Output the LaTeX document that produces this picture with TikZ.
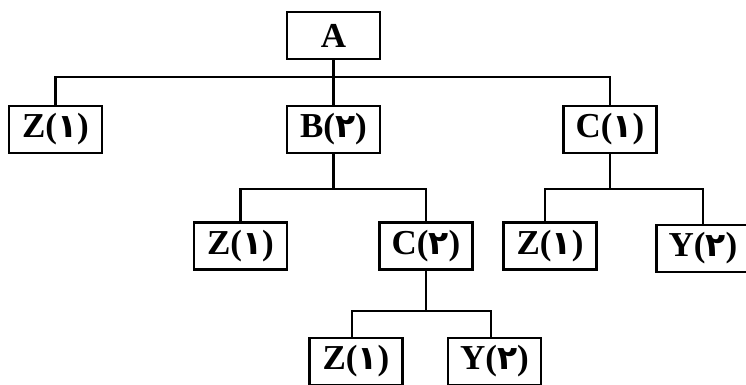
\documentclass[tikz,border=0pt]{standalone}
\usepackage{fontspec}
\setmainfont{Liberation Serif}
\newfontfamily\arabicfont[Script=Arabic]{DejaVu Sans}
\begin{document}
\begin{tikzpicture}[x=1pt,y=-1pt,
  treebox/.style={draw, line width=2.5pt, minimum width=93pt, minimum height=47pt, inner sep=0pt,
    font=\fontsize{35}{35}\selectfont\bfseries},
  link/.style={line width=2.3pt}]
\useasboundingbox (0,0) rectangle (746,385);
\clip (0,0) rectangle (746,385);
\newcommand{\dg}[1]{{\arabicfont\fontsize{33}{33}\selectfont\bfseries #1}}
\node[treebox] (A)  at (333.5,35.5) {A};
\node[treebox] (Z1) at (55.5,129.5) {Z(\dg{١})};
\node[treebox] (B)  at (333.5,129.5) {B(\dg{٢})};
\node[treebox] (C1) at (610,129.5) {C(\dg{١})};
\node[treebox] (Z2) at (240.5,246) {Z(\dg{١})};
\node[treebox] (C2) at (426,246) {C(\dg{٢})};
\node[treebox] (Z3) at (550,246) {Z(\dg{١})};
\node[treebox] (Y3) at (703,248.5) {Y(\dg{٢})};
\node[treebox] (Z4) at (356,361.5) {Z(\dg{١})};
\node[treebox] (Y4) at (494.5,361.5) {Y(\dg{٢})};
\coordinate (r1) at (0,77);
\coordinate (r2) at (0,189);
\coordinate (r3) at (0,311);
% level 1
\draw[link] (A.south) -- (B.north);
\draw[link] (Z1.north) -- (Z1.north |- r1) -- (C1.north |- r1) -- (C1.north);
% level 2 under B
\draw[link] (B.south) -- (B.south |- r2);
\draw[link] (Z2.north) -- (Z2.north |- r2) -- (C2.north |- r2) -- (C2.north);
% level 2 under C1
\draw[link] (C1.south) -- (C1.south |- r2);
\draw[link] ([xshift=-5pt]Z3.north) -- ([xshift=-5pt]Z3.north |- r2) -- (Y3.north |- r2) -- (Y3.north);
% level 3 under C2
\draw[link] (C2.south) -- (C2.south |- r3);
\draw[link] ([xshift=-4pt]Z4.north) -- ([xshift=-4pt]Z4.north |- r3) -- ([xshift=-3.5pt]Y4.north |- r3) -- ([xshift=-3.5pt]Y4.north);
\end{tikzpicture}
\end{document}
